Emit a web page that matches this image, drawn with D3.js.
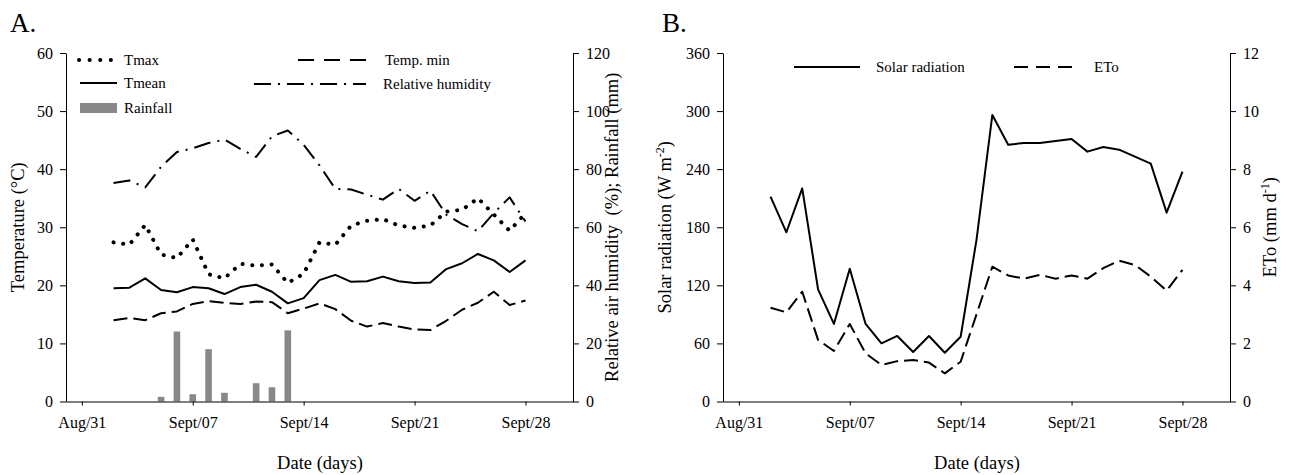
<!DOCTYPE html>
<html>
<head>
<meta charset="utf-8">
<script src="https://cdn.jsdelivr.net/npm/d3@7/dist/d3.min.js"></script>
<style>
  body { margin: 0; background: #fff; }
  text { font-family: "Liberation Serif", "Times New Roman", serif; fill: #000; }
</style>
</head>
<body>
<div id="chart"></div>
<script>
// days Sept 2 .. Sept 28
const days = ["09-02","09-03","09-04","09-05","09-06","09-07","09-08","09-09","09-10","09-11","09-12","09-13","09-14",
  "09-15","09-16","09-17","09-18","09-19","09-20","09-21","09-22","09-23","09-24","09-25","09-26","09-27","09-28"];

const tmax  = [27.4,27.0,30.4,25.3,24.7,27.9,21.9,21.2,23.7,23.4,23.6,20.4,22.0,27.4,27.0,30.3,31.1,31.4,30.3,29.9,30.3,32.7,33.0,35.0,32.2,29.4,32.4];
const tmean = [19.5,19.6,21.2,19.2,18.8,19.7,19.5,18.5,19.7,20.1,18.9,16.9,17.8,20.9,21.8,20.6,20.7,21.5,20.7,20.4,20.5,22.8,23.8,25.4,24.3,22.3,24.3];
const tmin  = [14.0,14.4,14.0,15.2,15.5,16.8,17.3,17.0,16.8,17.2,17.1,15.2,16.0,16.9,15.9,13.9,12.9,13.5,12.9,12.4,12.3,13.9,15.8,17.0,18.9,16.6,17.4];
const rh    = [75.2,76.1,73.7,80.8,85.9,87.2,89.0,90.2,87.0,84.2,91.3,93.3,88.4,81.3,73.2,73.0,71.2,69.5,73.2,69.1,72.6,64.3,61.1,58.6,64.9,70.3,62.0];
const rain  = [0,0,0,1.6,24.1,2.5,18.0,3.0,0,6.3,4.9,24.5,0,0,0,0,0,0,0,0,0,0,0,0,0,0,0];

const solar = [211.6,174.8,220.2,115.9,80.1,137.2,80.1,60.1,67.7,51.1,67.7,50.4,66.9,167,296.0,265.3,267.0,267.0,269.1,271.2,258.1,262.9,260.1,252.9,245.7,195.1,237.4];
const eto   = [3.23,3.07,3.78,2.12,1.74,2.67,1.66,1.26,1.39,1.43,1.34,0.97,1.37,3.0,4.64,4.34,4.23,4.36,4.23,4.34,4.23,4.59,4.85,4.70,4.30,3.82,4.53];

const tickDays   = ["08-31","09-07","09-14","09-21","09-28"];
const tickLabels = ["Aug/31","Sept/07","Sept/14","Sept/21","Sept/28"];
const tempTicks  = [0,10,20,30,40,50,60];
const rhTicks    = [0,20,40,60,80,100,120];
const solarTicks = [0,60,120,180,240,300,360];
const etoTicks   = [0,2,4,6,8,10,12];

const parse = d3.timeParse("%Y-%m-%d");
const toDate = s => parse("2019-" + s);
const dates = days.map(toDate);
const xDomain = [toDate("08-30"), toDate("10-01")];

const W = 1293, H = 475;
const plotTop = 53, plotBot = 401.5;

const svg = d3.select("#chart").append("svg")
  .attr("width", W).attr("height", H)
  .attr("viewBox", `0 0 ${W} ${H}`);

function xAxis(g, x) {
  g.attr("transform", `translate(0,${plotBot})`)
    .call(d3.axisBottom(x).tickValues(tickDays.map(toDate))
      .tickFormat((d, i) => tickLabels[i]).tickSize(4).tickSizeOuter(0).tickPadding(11));
}

function styleAxis(g) {
  g.selectAll("path, line").attr("stroke", "#000").attr("stroke-width", 1);
  g.selectAll("text").attr("font-size", 16).attr("fill", "#000")
    .style("font-family", '"Liberation Serif", serif');
}

function lineOf(x, y, vals) {
  return d3.line().x((d, i) => x(dates[i])).y(d => y(d))(vals);
}

// ---------- Panel A ----------
const xA = d3.scaleTime().domain(xDomain).range([66, 573]);
const yT = d3.scaleLinear().domain([0, 60]).range([plotBot, plotTop]);
const yR = d3.scaleLinear().domain([0, 120]).range([plotBot, plotTop]);

const gA = svg.append("g");

// rainfall bars
gA.selectAll("rect.rain").data(rain).join("rect")
  .attr("class", "rain")
  .attr("x", (d, i) => xA(dates[i]) - 3.3)
  .attr("width", 6.6)
  .attr("y", d => yR(d))
  .attr("height", d => plotBot - yR(d))
  .attr("fill", "#888");

const linesA = [
  { vals: tmax,  y: yT, dash: "0.1,9.6", w: 4, cap: "round" },
  { vals: tmean, y: yT, dash: null, w: 2, cap: "butt" },
  { vals: tmin,  y: yT, dash: "14,6", w: 2, cap: "butt" },
  { vals: rh,    y: yR, dash: "17,7,2,7", w: 2, cap: "butt" }
];
linesA.forEach(l => {
  gA.append("path")
    .attr("d", lineOf(xA, l.y, l.vals))
    .attr("fill", "none").attr("stroke", "#000")
    .attr("stroke-width", l.w).attr("stroke-linecap", l.cap)
    .attr("stroke-linejoin", "round")
    .attr("stroke-dasharray", l.dash);
});

gA.append("g").call(g => xAxis(g, xA)).call(styleAxis);
gA.append("g").attr("transform", "translate(66,0)")
  .call(d3.axisLeft(yT).tickValues(tempTicks).tickSize(6).tickSizeOuter(0).tickPadding(7))
  .call(styleAxis);
gA.append("g").attr("transform", "translate(573,0)")
  .call(d3.axisRight(yR).tickValues(rhTicks).tickSize(6).tickSizeOuter(0).tickPadding(7))
  .call(styleAxis);

gA.append("text").attr("x", 10).attr("y", 32).attr("font-size", 27).text("A.");
gA.append("text").attr("x", 320).attr("y", 469).attr("text-anchor", "middle")
  .attr("font-size", 18.5).text("Date (days)");
gA.append("text").attr("transform", `translate(24,${(plotTop + plotBot) / 2}) rotate(-90)`)
  .attr("text-anchor", "middle").attr("font-size", 18.5).text("Temperature (°C)");
gA.append("text").attr("transform", `translate(618,${(plotTop + plotBot) / 2}) rotate(-90)`)
  .attr("text-anchor", "middle").attr("font-size", 18.5)
  .attr("xml:space", "preserve").style("white-space", "pre")
  .text("Relative air humidity  (%); Rainfall (mm)");

// legend A
const legA = gA.append("g");
const legItems = [
  { x1: 79, x2: 114, y: 60, tx: 124, label: "Tmax", dash: "0.1,10.5", w: 4, cap: "round" },
  { x1: 80, x2: 117, y: 83, tx: 124, label: "Tmean", dash: null, w: 2, cap: "butt" },
  { x1: 298, x2: 366, y: 60, tx: 385, label: "Temp. min", dash: "16,10", w: 2, cap: "butt" },
  { x1: 254, x2: 366, y: 84, tx: 383, label: "Relative humidity", dash: "17,7,2,7", w: 2, cap: "butt" }
];
legItems.forEach(l => {
  legA.append("line").attr("x1", l.x1).attr("x2", l.x2).attr("y1", l.y).attr("y2", l.y)
    .attr("stroke", "#000").attr("stroke-width", l.w).attr("stroke-linecap", l.cap)
    .attr("stroke-dasharray", l.dash);
  legA.append("text").attr("x", l.tx).attr("y", l.y + 5).attr("font-size", 15).text(l.label);
});
legA.append("rect").attr("x", 80).attr("y", 103).attr("width", 37).attr("height", 10).attr("fill", "#888");
legA.append("text").attr("x", 124).attr("y", 113).attr("font-size", 15).text("Rainfall");

// ---------- Panel B ----------
const xB = d3.scaleTime().domain(xDomain).range([723, 1230]);
const yS = d3.scaleLinear().domain([0, 360]).range([plotBot, plotTop]);
const yE = d3.scaleLinear().domain([0, 12]).range([plotBot, plotTop]);

const gB = svg.append("g");
gB.append("path").attr("d", lineOf(xB, yS, solar))
  .attr("fill", "none").attr("stroke", "#000").attr("stroke-width", 2).attr("stroke-linejoin", "round");
gB.append("path").attr("d", lineOf(xB, yE, eto))
  .attr("fill", "none").attr("stroke", "#000").attr("stroke-width", 2)
  .attr("stroke-dasharray", "14,6").attr("stroke-linejoin", "round");

gB.append("g").call(g => xAxis(g, xB)).call(styleAxis);
gB.append("g").attr("transform", "translate(723,0)")
  .call(d3.axisLeft(yS).tickValues(solarTicks).tickSize(6).tickSizeOuter(0).tickPadding(7))
  .call(styleAxis);
gB.append("g").attr("transform", "translate(1230,0)")
  .call(d3.axisRight(yE).tickValues(etoTicks).tickSize(6).tickSizeOuter(0).tickPadding(7))
  .call(styleAxis);

gB.append("text").attr("x", 662).attr("y", 32).attr("font-size", 27).text("B.");
gB.append("text").attr("x", 977).attr("y", 469).attr("text-anchor", "middle")
  .attr("font-size", 18.5).text("Date (days)");

const sl = gB.append("text").attr("transform", `translate(671,${(plotTop + plotBot) / 2}) rotate(-90)`)
  .attr("text-anchor", "middle").attr("font-size", 18.5);
sl.append("tspan").text("Solar radiation (W m");
sl.append("tspan").attr("font-size", 12).attr("dy", -7).text("-2");
sl.append("tspan").attr("dy", 7).text(")");

const el = gB.append("text").attr("transform", `translate(1276,${(plotTop + plotBot) / 2}) rotate(-90)`)
  .attr("text-anchor", "middle").attr("font-size", 18.5);
el.append("tspan").text("ETo (mm d");
el.append("tspan").attr("font-size", 12).attr("dy", -7).text("-1");
el.append("tspan").attr("dy", 7).text(")");

// legend B
gB.append("line").attr("x1", 794).attr("x2", 860).attr("y1", 67).attr("y2", 67)
  .attr("stroke", "#000").attr("stroke-width", 2);
gB.append("text").attr("x", 876).attr("y", 72).attr("font-size", 15).text("Solar radiation");
gB.append("line").attr("x1", 1014).attr("x2", 1073).attr("y1", 67).attr("y2", 67)
  .attr("stroke", "#000").attr("stroke-width", 2).attr("stroke-dasharray", "14,8");
gB.append("text").attr("x", 1094).attr("y", 72).attr("font-size", 15).text("ETo");
</script>
</body>
</html>
